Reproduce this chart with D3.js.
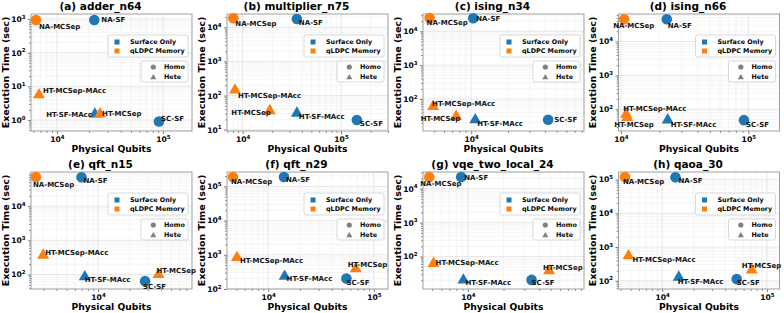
<!DOCTYPE html>
<html><head><meta charset="utf-8">
<script src="https://cdn.jsdelivr.net/npm/d3@7/dist/d3.min.js"></script>
<style>body{margin:0;background:#fff}svg{display:block}text{font-family:"DejaVu Sans",sans-serif;font-weight:bold}</style>
</head><body><svg id="c" width="784" height="313"></svg>
<script>
// ---- data ----
const titles = ["(a) adder_n64","(b) multiplier_n75","(c) ising_n34","(d) ising_n66","(e) qft_n15","(f) qft_n29","(g) vqe_two_local_24","(h) qaoa_30"];
const methods = ["NA-MCSep","NA-SF","HT-MCSep-MAcc","HT-SF-MAcc","HT-MCSep","SC-SF"];
const memoryType = ["qLDPC Memory","Surface Only","qLDPC Memory","Surface Only","qLDPC Memory","Surface Only"];
const archType = ["Homo","Homo","Hete","Hete","Hete","Homo"];
const qubits = [
  [6340, 22500, 6770, 22800, 25500, 91700],
  [8040, 35600, 8360, 35600, 18900, 145000],
  [4580, 10400, 4890, 10800, 7550, 42500],
  [10600, 22900, 11000, 23300, 11200, 92500],
  [2550, 6950, 2990, 7470, 37900, 28200],
  [4640, 14100, 5060, 14300, 67400, 55000],
  [4730, 8790, 5140, 9180, 48500, 34500],
  [4410, 13400, 4770, 14400, 71800, 51500]
];
const times = [
  [935, 935, 5.9, 1.58, 1.6, 0.9],
  [18400, 17500, 153, 32, 38, 19.3],
  [24800, 24300, 63, 25.6, 32, 24.4],
  [45200, 45000, 75, 51, 60, 47.6],
  [70600, 70000, 385, 90, 105, 64],
  [187000, 187000, 875, 247, 411, 201],
  [22000, 22000, 66, 21.3, 40, 20.5],
  [119000, 117000, 580, 134, 221, 112]
];
const xLimits = [[5690,188000],[6934,300600],[4046,83400],[9570,175800],[2286,79250],[4074,136100],[4188,95500],[3828,132100]];
const yLimits = [[0.472,1406],[9.16,24600],[11.3,32500],[22.8,64600],[37.7,99300],[100,261800],[11.07,30970],[56.9,167500]];
const legendMemory = ["Surface Only","qLDPC Memory"];
const legendArch = ["Homo","Hete"];

// ---- layout / style ----
const colors = {"Surface Only":"#1f77b4","qLDPC Memory":"#ff7f0e"};
const lefts = [31, 227, 423, 618.5], tops = [14, 172], PW = 161, PH = 117;
// label offsets [dx, dy, anchor] per panel, per method
const labelOffsets = [
  [[3,7,"s"],[7,0,"s"],[4,-4,"s"],[-3,1,"e"],[2,0,"s"],[2,-3,"s"]],
  [[2,5,"s"],[2,4,"s"],[3,6,"s"],[2,4,"s"],[1,3,"e"],[3,4,"s"]],
  [[-3,5,"s"],[3,0,"s"],[-1,-2,"s"],[2,5,"s"],[4,3,"e"],[6,0,"s"]],
  [[-11,6,"s"],[1,6,"s"],[-3,-5,"s"],[3,5,"s"],[-13,8,"s"],[2,4,"s"]],
  [[-3,7,"s"],[2,3,"s"],[2,-2,"s"],[0,3,"s"],[-2,-3,"s"],[-2,5,"s"]],
  [[-2,5,"s"],[2,3,"s"],[3,4,"s"],[2,3,"s"],[-8,-3,"s"],[0,4,"s"]],
  [[-9,7,"s"],[3,1,"s"],[2,0,"s"],[2,3,"s"],[-6,-3,"s"],[0,3,"s"]],
  [[-2,5,"s"],[3,3,"s"],[4,5,"s"],[-1,5,"s"],[-10,-4,"s"],[0,3,"s"]]
];

const svg = d3.select("#c");
const tri = d3.symbol().type(d3.symbolTriangle).size(62);

function logTicks(dom){
  const maj=[], min=[];
  for(let k=Math.floor(Math.log10(dom[0]))-1;k<=Math.ceil(Math.log10(dom[1]));k++){
    for(let m=1;m<=9;m++){
      const v=m*Math.pow(10,k);
      if(v>=dom[0]*0.9999 && v<=dom[1]*1.0001){ (m===1?maj:min).push(v); }
    }
  }
  return {maj,min};
}
function supLabel(sel){
  sel.selectAll(".tick text").each(function(d){
    const t=d3.select(this); t.text(null);
    t.append("tspan").text("10");
    t.append("tspan").attr("dy",-3.3).attr("font-size",5.4).text(Math.round(Math.log10(d)));
  });
}

titles.forEach((title,i)=>{
  const L = lefts[i%4], T = tops[Math.floor(i/4)];
  const x = d3.scaleLog().domain(xLimits[i]).range([L, L+PW]);
  const y = d3.scaleLog().domain(yLimits[i]).range([T+PH, T]);
  const g = svg.append("g");
  const xt = logTicks(xLimits[i]), yt = logTicks(yLimits[i]);
  // grid
  g.selectAll(".gxm").data(xt.min).join("line").attr("x1",d=>x(d)).attr("x2",d=>x(d)).attr("y1",T).attr("y2",T+PH).attr("stroke","#efefef").attr("stroke-width",0.6);
  g.selectAll(".gym").data(yt.min).join("line").attr("y1",d=>y(d)).attr("y2",d=>y(d)).attr("x1",L).attr("x2",L+PW).attr("stroke","#efefef").attr("stroke-width",0.6);
  g.selectAll(".gxM").data(xt.maj).join("line").attr("x1",d=>x(d)).attr("x2",d=>x(d)).attr("y1",T).attr("y2",T+PH).attr("stroke","#e2e2e2").attr("stroke-width",0.8);
  g.selectAll(".gyM").data(yt.maj).join("line").attr("y1",d=>y(d)).attr("y2",d=>y(d)).attr("x1",L).attr("x2",L+PW).attr("stroke","#e2e2e2").attr("stroke-width",0.8);
  // axes
  const ax = g.append("g").attr("transform",`translate(0,${T+PH})`).call(d3.axisBottom(x).tickValues(xt.maj).tickSize(3).tickPadding(2.5).tickFormat(""));
  g.append("g").attr("transform",`translate(0,${T+PH})`).call(d3.axisBottom(x).tickValues(xt.min).tickSize(1.8).tickFormat("")).call(s=>s.select(".domain").remove());
  const ay = g.append("g").attr("transform",`translate(${L},0)`).call(d3.axisLeft(y).tickValues(yt.maj).tickSize(3).tickPadding(2.5).tickFormat(""));
  g.append("g").attr("transform",`translate(${L},0)`).call(d3.axisLeft(y).tickValues(yt.min).tickSize(1.8).tickFormat("")).call(s=>s.select(".domain").remove());
  [ax,ay].forEach(a=>{a.select(".domain").remove(); a.selectAll(".tick text").attr("font-size",7.6).attr("fill","#000"); supLabel(a);});
  g.selectAll(".tick line").attr("stroke","#444").attr("stroke-width",0.7);
  g.append("rect").attr("x",L).attr("y",T).attr("width",PW).attr("height",PH).attr("fill","none").attr("stroke","#a0a0a0").attr("stroke-width",1);
  // titles & labels
  g.append("text").attr("x",L+PW/2-11).attr("y",T-4).attr("text-anchor","middle").attr("font-size",10.5).text(title);
  g.append("text").attr("x",L+PW/2).attr("y",T+PH+20.5).attr("text-anchor","middle").attr("font-size",9.2).text("Physical Qubits");
  g.append("text").attr("transform",`translate(${L-22.5},${T+PH/2}) rotate(-90)`).attr("text-anchor","middle").attr("font-size",9.5).text("Execution Time (sec)");
  // points
  methods.forEach((m,j)=>{
    const px=x(qubits[i][j]), py=y(times[i][j]);
    const c=colors[memoryType[j]];
    if(archType[j]==="Homo") g.append("circle").attr("cx",px).attr("cy",py).attr("r",5.3).attr("fill",c);
    else g.append("path").attr("d",tri).attr("transform",`translate(${px},${py+0.8})`).attr("fill",c);
  });
  methods.forEach((m,j)=>{
    const px=x(qubits[i][j]), py=y(times[i][j]);
    const o=labelOffsets[i][j];
    g.append("text").attr("x",px+o[0]).attr("y",py+o[1]).attr("dy","0.35em").attr("text-anchor",o[2]==="s"?"start":"end").attr("font-size",7).attr("fill","#111").text(m);
  });
  // legends
  const R = L+PW-4;
  const lg1 = g.append("g").attr("transform",`translate(${R-80},${T+21})`);
  lg1.append("rect").attr("width",80).attr("height",22).attr("rx",2).attr("fill","#fff").attr("fill-opacity",0.85).attr("stroke","#d0d0d0").attr("stroke-width",0.8);
  legendMemory.forEach((k,r)=>{
    lg1.append("rect").attr("x",6.5).attr("y",7+9*r-2.5).attr("width",5).attr("height",5).attr("fill",colors[k]);
    lg1.append("text").attr("x",22).attr("y",7+9*r).attr("dy","0.35em").attr("font-size",6.4).text(k);
  });
  const lg2 = g.append("g").attr("transform",`translate(${R-47},${T+47})`);
  lg2.append("rect").attr("width",47).attr("height",21).attr("rx",2).attr("fill","#fff").attr("fill-opacity",0.85).attr("stroke","#d0d0d0").attr("stroke-width",0.8);
  legendArch.forEach((k,r)=>{
    if(k==="Homo") lg2.append("circle").attr("cx",12.3).attr("cy",6+10*r).attr("r",2.6).attr("fill","#808080");
    else lg2.append("path").attr("d",d3.symbol().type(d3.symbolTriangle).size(16)).attr("transform",`translate(12.3,${6+10*r+0.4})`).attr("fill","#808080");
    lg2.append("text").attr("x",23).attr("y",6+10*r).attr("dy","0.35em").attr("font-size",6.4).text(k);
  });
});
</script></body></html>
